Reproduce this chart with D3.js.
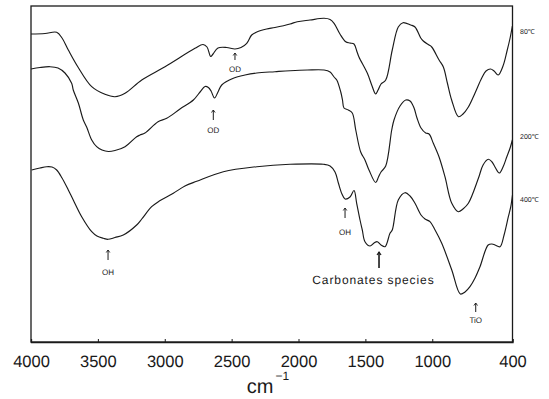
<!DOCTYPE html>
<html><head><meta charset="utf-8">
<script src="https://cdn.jsdelivr.net/npm/d3@7"></script>
<style>html,body{margin:0;padding:0;background:#fff;}svg{display:block;}text{text-rendering:geometricPrecision;}</style>
</head><body>
<script>
// ---- data (wavenumber in cm^-1, transmittance in arbitrary units) ----
const wn80 = [4000,3895,3808,3768,3721,3649,3546,3447,3372,3297,3172,2998,2774,2714,2684,2656,2639,2602,2537,2475,2430,2387,2350,2312,2238,2176,2063,2009,1914,1809,1764,1734,1690,1647,1615,1585,1562,1548,1485,1450,1423,1405,1383,1348,1299,1254,1219,1161,1129,1086,1067,1024,1004,949,917,887,855,804,770,730,680,630,598,564,538,507,471,441,418,401];
const t80  = [308,308.5,309.7,304,292,275,255.3,247.7,245.3,248.7,262,275.3,293.7,297.5,295,285.5,288,294,294.5,293,294.5,298.7,307,310,313,314.5,318,320.3,322,323.7,322.5,318.7,308,300.3,299,298,290,285,268.7,256,248,252,258,262,292,315,319.3,317,315,304,301,297,295,282,275,259,242,225.3,228,235,249,264,271,273,271,267,276,291,304,316];

const wn200 = [4000,3933,3858,3798,3746,3696,3684,3646,3609,3584,3546,3509,3469,3421,3372,3297,3210,3185,3148,3050,2985,2886,2786,2736,2699,2674,2654,2628,2602,2574,2487,2400,2312,2176,2063,1934,1809,1764,1734,1714,1684,1671,1660,1628,1598,1572,1535,1503,1473,1423,1402,1383,1348,1303,1286,1241,1198,1166,1136,1114,1084,1049,1024,992,949,905,854,805,770,730,655,620,581,553,531,499,471,443,418,401];
const t200  = [273,274.5,275.3,274,269,258.7,252,239,222,215,202,195.3,192,190.5,191.5,195.3,205.3,207,209,220.3,223.7,233,242,250,255.5,254.5,251,244,250,257,263.7,267,269,270.3,271.3,272,272,270,265,262,250,242,234,232,229,212,190,182,172,159.5,165,170,176,212,222,236,242,241,234,224,214,209,208,198.7,185,165.3,138.7,130.3,133,138.7,163.7,177,182.7,180,175,169,175,185,194,202];

const wn400 = [3995,3933,3883,3843,3808,3768,3721,3684,3621,3546,3507,3459,3424,3372,3310,3210,3172,3098,3048,2936,2849,2761,2562,2312,2063,1814,1764,1727,1702,1675,1652,1615,1585,1565,1540,1523,1503,1465,1435,1411,1383,1353,1316,1299,1254,1204,1166,1129,1084,1054,1017,979,929,854,790,755,718,680,643,582,553,531,493,463,431,413,400];
const t400  = [172,174,175.3,175,172,164,152,142,125.3,110.3,106,103.7,102.7,104.5,107,117,123,135.3,140.3,148.7,156,160.7,170.3,175.3,177.7,177.7,176,170,159,148,143,145,151.5,138.7,122,112,100.3,96,99,100.3,97,95.3,108.7,112,142,149.3,146,138.7,127,123,120.3,112,98.7,72,48,50,55.3,64,75.3,97,98,97,95.3,107,125.3,135.3,147];

const seriesNames = ["80℃","200℃","400℃"];
const seriesLabelValue = [310,205,142.5];
const tickValues = [4000,3500,3000,2500,2000,1500,1000,400];
const xDomain = [4000,400];
const yDomain = [0,336];

// annotations: label, wavenumber, arrow base value, arrow tip value, label value
const annLabels = ["OD","OD","OH","OH","Carbonates  species","TiO"];
const annWn     = [2475,2637,3424,1652,1398,675];
const annBase   = [282,222,82,124,74,30];
const annTip    = [289,232,92,134,90,39];
const annText   = [273,212,70,110,62,22];
const annTextWn = [2475,2637,3424,1652,1440,675];

// ---- drawing ----
const W = 549, H = 399;
const svg = d3.select("body").append("svg").attr("width",W).attr("height",H);
const x = d3.scaleLinear().domain(xDomain).range([31,512.5]);
const y = d3.scaleLinear().domain(yDomain).range([342,6]);

const font = "'Liberation Sans', Arial, Helvetica, sans-serif";
const ink = "#1a1a1a";

// frame
svg.append("rect").attr("x",x(4000)).attr("y",y(336)).attr("width",x(400)-x(4000)).attr("height",y(0)-y(336))
  .attr("fill","none").attr("stroke",ink).attr("stroke-width",1.3);

// bottom axis
const axis = d3.axisBottom(x).tickValues(tickValues).tickSize(-3).tickPadding(8).tickFormat(d3.format("d"));
const gx = svg.append("g").attr("transform",`translate(0,${y(0)})`).call(axis);
gx.select(".domain").attr("stroke",ink).attr("stroke-width",1.3);
gx.selectAll(".tick line").attr("stroke",ink);
gx.selectAll(".tick text").attr("font-family",font).attr("font-size",16.5).attr("fill",ink).attr("dy","1em");

// axis title
const title = svg.append("text").attr("x",268).attr("y",393).attr("text-anchor","middle")
  .attr("font-family",font).attr("font-size",20).attr("fill",ink);
title.append("tspan").text("cm");
title.append("tspan").attr("font-size",12).attr("dy",-13).attr("dx",2).text("−1");

// curves
const line = d3.line().x(d=>x(d[0])).y(d=>y(d[1])).curve(d3.curveCatmullRom.alpha(0.5));
const series = [[wn80,t80],[wn200,t200],[wn400,t400]];
series.forEach(([w,t],i)=>{
  const pts = w.map((v,j)=>[v,t[j]]);
  svg.append("path").datum(pts).attr("d",line).attr("fill","none")
    .attr("stroke",ink).attr("stroke-width",1.15).attr("stroke-linejoin","round");
  svg.append("text").attr("x",520).attr("y",y(seriesLabelValue[i])).attr("dy","0.35em")
    .attr("font-family",font).attr("font-size",7).attr("fill",ink).text(seriesNames[i]);
});

// annotations
annLabels.forEach((lab,i)=>{
  const ax = x(annWn[i]);
  const big = i===4;
  const g = svg.append("g").attr("stroke",ink).attr("fill","none");
  g.append("line").attr("x1",ax).attr("x2",ax).attr("y1",y(annBase[i])).attr("y2",y(annTip[i]))
    .attr("stroke-width",big?1.6:1);
  const hy = y(annTip[i]);
  g.append("path").attr("d",`M${ax-(big?2:1.8)},${hy+(big?3:2.5)}L${ax},${hy}L${ax+(big?2:1.8)},${hy+(big?3:2.5)}`)
    .attr("stroke-width",big?1.2:0.9);
  svg.append("text").attr("x",x(annTextWn[i])).attr("y",y(annText[i])).attr("dy","0.35em")
    .attr("text-anchor","middle").attr("font-family",font).attr("font-size",big?12:8)
    .attr("letter-spacing",big?0.9:0).attr("fill",ink).text(lab);
});
</script>
</body></html>
